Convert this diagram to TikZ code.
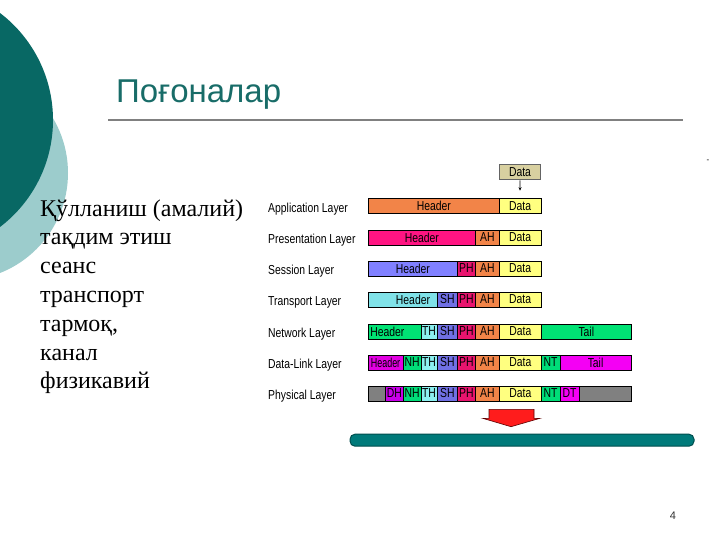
\documentclass[tikz,border=0pt]{standalone}
\usepackage{fontspec}
\setmainfont{Liberation Serif}
\newfontfamily\sansf{Liberation Sans}
\newfontfamily\narrowf[FakeStretch=0.8]{Liberation Sans}
\usetikzlibrary{arrows.meta}
\definecolor{darkteal}{RGB}{8,104,100}
\definecolor{lightteal}{RGB}{156,204,204}
\definecolor{titlecol}{RGB}{24,108,104}
\definecolor{rulecol}{RGB}{128,128,128}
\definecolor{orangeH}{RGB}{242,132,72}
\definecolor{yellowD}{RGB}{255,255,128}
\definecolor{pinkH}{RGB}{255,20,130}
\definecolor{crimsonPH}{RGB}{232,20,110}
\definecolor{blueH}{RGB}{128,128,255}
\definecolor{blueSH}{RGB}{112,112,228}
\definecolor{cyanH}{RGB}{128,226,232}
\definecolor{cyanTH}{RGB}{140,240,240}
\definecolor{greenH}{RGB}{0,226,116}
\definecolor{greenN}{RGB}{0,220,120}
\definecolor{magH}{RGB}{226,0,226}
\definecolor{magT}{RGB}{244,0,244}
\definecolor{purpleDH}{RGB}{200,0,232}
\definecolor{grayP}{RGB}{128,128,128}
\definecolor{tanD}{RGB}{216,208,160}
\definecolor{tealbar}{RGB}{0,122,122}
\definecolor{tealedge}{RGB}{0,78,78}
\definecolor{arrowred}{RGB}{255,28,28}
\newcommand\mycell[7][]{\node[cell,fill=#5,minimum width={(#3)-(#2)},#1] (#7) at (#2,#4) {#6};}
\begin{document}
\begin{tikzpicture}[x=1pt,y=-1pt,
  cell/.style={draw=black,line width=0.6pt,minimum height=15pt,inner sep=0pt,anchor=west,
    font=\narrowf\fontsize{13}{15}\selectfont},
  lbl/.style={anchor=base west,inner sep=0pt,font=\narrowf\fontsize{13}{15}\selectfont},
  lefttxt/.style={anchor=base west,inner sep=0pt,font=\fontsize{24}{28}\selectfont}]
\useasboundingbox (0,0) rectangle (720,540);
\fill[white] (0,0) rectangle (720,540);
\begin{scope}
\clip (0,0) rectangle (720,540);
\fill[lightteal] (-39.5,173) circle[radius=107.5];
\fill[darkteal] (-81.5,120) circle[radius=134.5];
\end{scope}
% title
\node[anchor=base west,inner sep=0pt,text=titlecol,font=\sansf\fontsize{33}{36}\selectfont] (title) at (116,103) {Поғоналар};
\draw[rulecol,line width=1.6pt] (108,120) -- (683,120);
\node[inner sep=0pt,font=\sansf\fontsize{8}{8}\selectfont] (dash) at (708,161) {-};
% left list
\node[lefttxt] (t1) at (40,216) {Қўлланиш (амалий)};
\node[lefttxt] (t2) at (40,244.8) {тақдим этиш};
\node[lefttxt] (t3) at (40,273.6) {сеанс};
\node[lefttxt] (t4) at (40,302.4) {транспорт};
\node[lefttxt] (t5) at (40,331.2) {тармоқ,};
\node[lefttxt] (t6) at (40,360) {канал};
\node[lefttxt] (t7) at (40,388.8) {физикавий};
% layer labels
\node[lbl] (l1) at (268,212) {Application Layer};
\node[lbl] (l2) at (268,243.5) {Presentation Layer};
\node[lbl] (l3) at (268,274.5) {Session Layer};
\node[lbl] (l4) at (268,305.5) {Transport Layer};
\node[lbl] (l5) at (268,337.5) {Network Layer};
\node[lbl] (l6) at (268,368.5) {Data-Link Layer};
\node[lbl] (l7) at (268,399.5) {Physical Layer};
% top data
\node[cell,fill=tanD,draw={rgb,255:red,100;green,100;blue,100},line width=1pt,minimum width=41] (top) at (499,172.5) {Data};
% application
\mycell{368}{499}{206}{orangeH}{Header}{a1}
\mycell{499}{540.5}{206}{yellowD}{Data}{a2}
\draw[-{Stealth[length=3.5pt,width=3pt]},line width=0.6pt,shorten >=7.5pt] (top) -- (a2);
% presentation
\mycell{368}{475}{237.5}{pinkH}{Header}{p1}
\mycell{475}{499}{237.5}{orangeH}{AH}{p2}
\mycell{499}{540.5}{237.5}{yellowD}{Data}{p3}
% session
\mycell{368}{457}{268.5}{blueH}{Header}{s1}
\mycell{457}{475}{268.5}{crimsonPH}{PH}{s2}
\mycell{475}{499}{268.5}{orangeH}{AH}{s3}
\mycell{499}{540.5}{268.5}{yellowD}{Data}{s4}
% transport
\mycell[text width=55,align=right,inner xsep=7]{367.5}{437}{299.5}{cyanH}{Header}{r1}
\mycell{437}{457}{299.5}{blueSH}{SH}{r2}
\mycell{457}{475}{299.5}{crimsonPH}{PH}{r3}
\mycell{475}{499}{299.5}{orangeH}{AH}{r4}
\mycell{499}{540.5}{299.5}{yellowD}{Data}{r5}
% network
\mycell[text width=48,align=left,inner xsep=2.5]{367.5}{420.5}{331.5}{greenH}{Header}{n1}
\mycell{420.5}{437}{331.5}{cyanTH}{TH}{n2}
\mycell{437}{457}{331.5}{blueSH}{SH}{n3}
\mycell{457}{475}{331.5}{crimsonPH}{PH}{n4}
\mycell{475}{499}{331.5}{orangeH}{AH}{n5}
\mycell{499}{541}{331.5}{yellowD}{Data}{n6}
\mycell{541}{631}{331.5}{greenH}{Tail}{n7}
% data link
\mycell{367.5}{403}{362.5}{magH}{\scalebox{0.86}[1]{Header}}{d1}
\mycell{403}{420.5}{362.5}{greenN}{NH}{d2}
\mycell{420.5}{437}{362.5}{cyanTH}{TH}{d3}
\mycell{437}{457}{362.5}{blueSH}{SH}{d4}
\mycell{457}{475}{362.5}{crimsonPH}{PH}{d5}
\mycell{475}{499}{362.5}{orangeH}{AH}{d6}
\mycell{499}{541}{362.5}{yellowD}{Data}{d7}
\mycell{541}{559.5}{362.5}{greenN}{NT}{d8}
\mycell{559.5}{631}{362.5}{magT}{Tail}{d9}
% physical
\mycell{367.5}{631}{393.5}{grayP}{}{h0}
\mycell{385}{403}{393.5}{purpleDH}{DH}{h1}
\mycell{403}{420.5}{393.5}{greenN}{NH}{h2}
\mycell{420.5}{437}{393.5}{cyanTH}{TH}{h3}
\mycell{437}{457}{393.5}{blueSH}{SH}{h4}
\mycell{457}{475}{393.5}{crimsonPH}{PH}{h5}
\mycell{475}{499}{393.5}{orangeH}{AH}{h6}
\mycell{499}{541}{393.5}{yellowD}{Data}{h7}
\mycell{541}{559.5}{393.5}{greenN}{NT}{h8}
\mycell{559.5}{579}{393.5}{magT}{DT}{h9}
% red block arrow
\filldraw[fill=arrowred,draw={rgb,255:red,90;green,0;blue,0},line width=0.6pt,line join=miter]
  (489,409.3) -- (534,409.3) -- (534,418.3) -- (540,418.3) -- (511,426.7) -- (482.7,418.3) -- (489,418.3) -- cycle;
% medium bar
\node[draw=tealedge,fill=tealbar,line width=1pt,rounded corners=5pt,minimum width=344,minimum height=12,inner sep=0pt,anchor=west] (medium) at (349.5,440.2) {};
% page number
\node[inner sep=0pt,text={rgb,255:red,50;green,50;blue,50},font=\sansf\fontsize{11}{12}\selectfont] (pg) at (673,516) {4};
\end{tikzpicture}
\end{document}
